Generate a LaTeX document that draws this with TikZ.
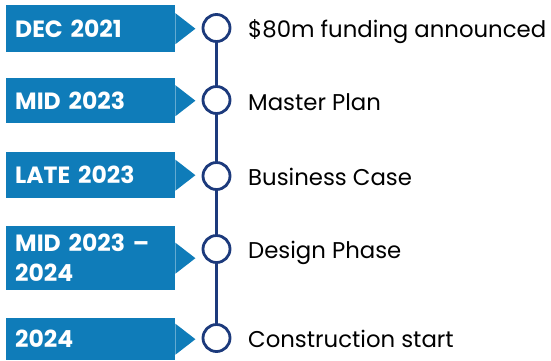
\documentclass[tikz,border=0pt]{standalone}
\usepackage{fontspec}
\setmainfont{Poppins}
\definecolor{boxblue}{HTML}{0F7CB9}
\definecolor{navy}{HTML}{1C3A7C}
\begin{document}
\begin{tikzpicture}[x=1pt,y=-1pt,
  datebox/.style={fill=boxblue, text=white, anchor=north west, minimum width=169pt, inner xsep=9pt, inner ysep=0pt, text width=151pt, align=left, font=\fontsize{23.5}{30}\selectfont\bfseries},
  dot/.style={circle, draw=navy, line width=2.8pt, fill=white, minimum size=27pt, inner sep=0pt},
  lbl/.style={anchor=base west, font=\fontsize{22.8}{24}\selectfont, text=black, inner sep=0pt},
  link/.style={draw=navy, line width=3.6pt}]
\useasboundingbox (0,0) rectangle (551,360);
% date boxes
\node[datebox, minimum height=47pt] (b1) at (6,5) {DEC 2021};
\node[datebox, minimum height=45pt] (b2) at (6,78) {MID 2023};
\node[datebox, minimum height=46pt] (b3) at (6,152) {LATE 2023};
\node[datebox, minimum height=64pt] (b4) at (6,226) {MID 2023 –\\2024};
\node[datebox, minimum height=42pt] (b5) at (6,318) {2024};
% pointers
\foreach \b in {b1,b2,b3,b4,b5}{
  \fill[boxblue] ([yshift=15.5pt]\b.east) -- ([xshift=20pt]\b.east) -- ([yshift=-15.5pt]\b.east) -- cycle;
}
% circles
\node[dot] (c1) at (216.5,28) {};
\node[dot] (c2) at (216.5,100) {};
\node[dot] (c3) at (216.5,176) {};
\node[dot] (c4) at (216.5,249) {};
\node[dot] (c5) at (216.5,338) {};
\draw[link] (c1) -- (c2);
\draw[link] (c2) -- (c3);
\draw[link] (c3) -- (c4);
\draw[link] (c4) -- (c5);
% labels
\node[lbl] (t1) at (248,37) {\$80m funding announced};
\node[lbl] (t2) at (248,110) {Master Plan};
\node[lbl] (t3) at (248,185) {Business Case};
\node[lbl] (t4) at (248,258) {Design Phase};
\node[lbl] (t5) at (248,347) {Construction start};
\end{tikzpicture}
\end{document}
